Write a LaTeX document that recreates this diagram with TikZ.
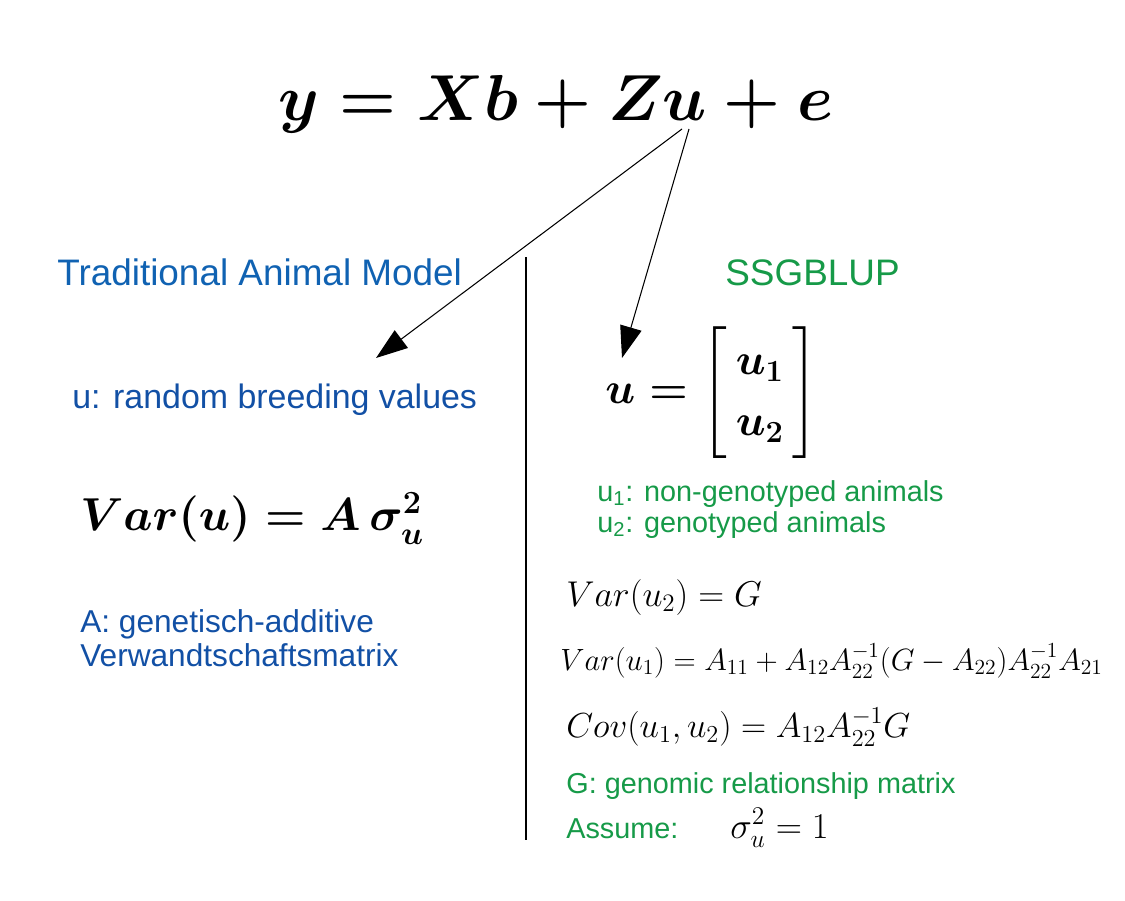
\RequirePackage{fix-cm}
\documentclass[tikz,border=0pt]{standalone}
\usepackage{amsmath,amssymb}
\usepackage[no-math]{fontspec}
\setmainfont{Liberation Sans}
\usepackage{xcolor}
\usepackage{tikz}
\usetikzlibrary{arrows.meta,positioning}

\definecolor{tamblue}{RGB}{16,98,178}
\definecolor{tamdark}{RGB}{18,80,165}
\definecolor{ssggreen}{RGB}{22,154,72}

\begin{document}
\begin{tikzpicture}[x=0.02cm,y=-0.02cm,>={Triangle[length=18pt,width=12.5pt]},
  every node/.style={inner sep=0pt,anchor=base west},
  heading/.style={font=\fontsize{21}{25}\selectfont},
  tamtext/.style={text=tamdark,font=\fontsize{19.3}{23}\selectfont},
  ssgtext/.style={text=ssggreen,font=\fontsize{16.4}{20}\selectfont},
  formula/.style={font=\fontsize{20.4}{24}\selectfont}]
  \path[use as bounding box] (0,0) rectangle (1125,900);

  % the model
  \node[font=\fontsize{37}{44}\selectfont\boldmath] (model) at (278,120) {$y=Xb+Zu+e$};
  \coordinate (uleft) at (682,129);
  \coordinate (uright) at (689,129);

  % left column: traditional animal model
  \node[heading,text=tamblue] (tam) at (57,285) {Traditional Animal Model};
  \coordinate (tiptam) at (376,358);
  \node[tamtext] (urandom) at (72,408) {u: random breeding values};
  \node[font=\fontsize{26.3}{32}\selectfont\boldmath] (varu) at (80,530) {$Var(u)=A\,\sigma_u^2$};
  \node[tamtext,font=\fontsize{18}{22}\selectfont] (amat) at (80,632) {A: genetisch-additive};
  \node[tamtext,font=\fontsize{18}{22}\selectfont] (amat2) at (80,666) {Verwandtschaftsmatrix};

  % divider
  \coordinate (divtop) at (526,257);
  \coordinate (divbot) at (526,840);
  \draw[line width=0.6pt] (divtop) -- (divbot);

  % right column: ssgblup
  \node[heading,text=ssggreen] (ssg) at (725,285) {SSGBLUP};
  \coordinate (tipssg) at (622,358);
  \node[anchor=west,font=\fontsize{25}{30}\selectfont\boldmath] (uvec) at (605,393) {\renewcommand{\arraystretch}{1.15}$u=\begin{bmatrix}\,u_1\,\\\,u_2\,\end{bmatrix}$};
  \node[ssgtext] (u1txt) at (597,501) {u\textsubscript{1}: non-genotyped animals};
  \node[ssgtext] (u2txt) at (597,532) {u\textsubscript{2}: genotyped animals};
  \node[formula] (varu2) at (566,606) {$Var(u_2)=G$};
  \node[font=\fontsize{17.5}{20}\selectfont] (varu1) at (560,670) {$Var(u_1)=A_{11}+A_{12}A_{22}^{-1}(G-A_{22})A_{22}^{-1}A_{21}$};
  \node[formula,font=\fontsize{19.8}{24}\selectfont] (cov) at (566,737) {$Cov(u_1,u_2)=A_{12}A_{22}^{-1}G$};
  \node[ssgtext] (gmat) at (566,793) {G: genomic relationship matrix};
  \node[ssgtext] (assume) at (566,838) {Assume:};
  \node[formula,font=\fontsize{20.7}{24}\selectfont] (sigma) at (730,838) {$\sigma_u^2=1$};

  % arrows from u
  \draw[->,line width=0.6pt] (uleft) -- (tiptam);
  \draw[->,line width=0.6pt] (uright) -- (tipssg);
\end{tikzpicture}
\end{document}
